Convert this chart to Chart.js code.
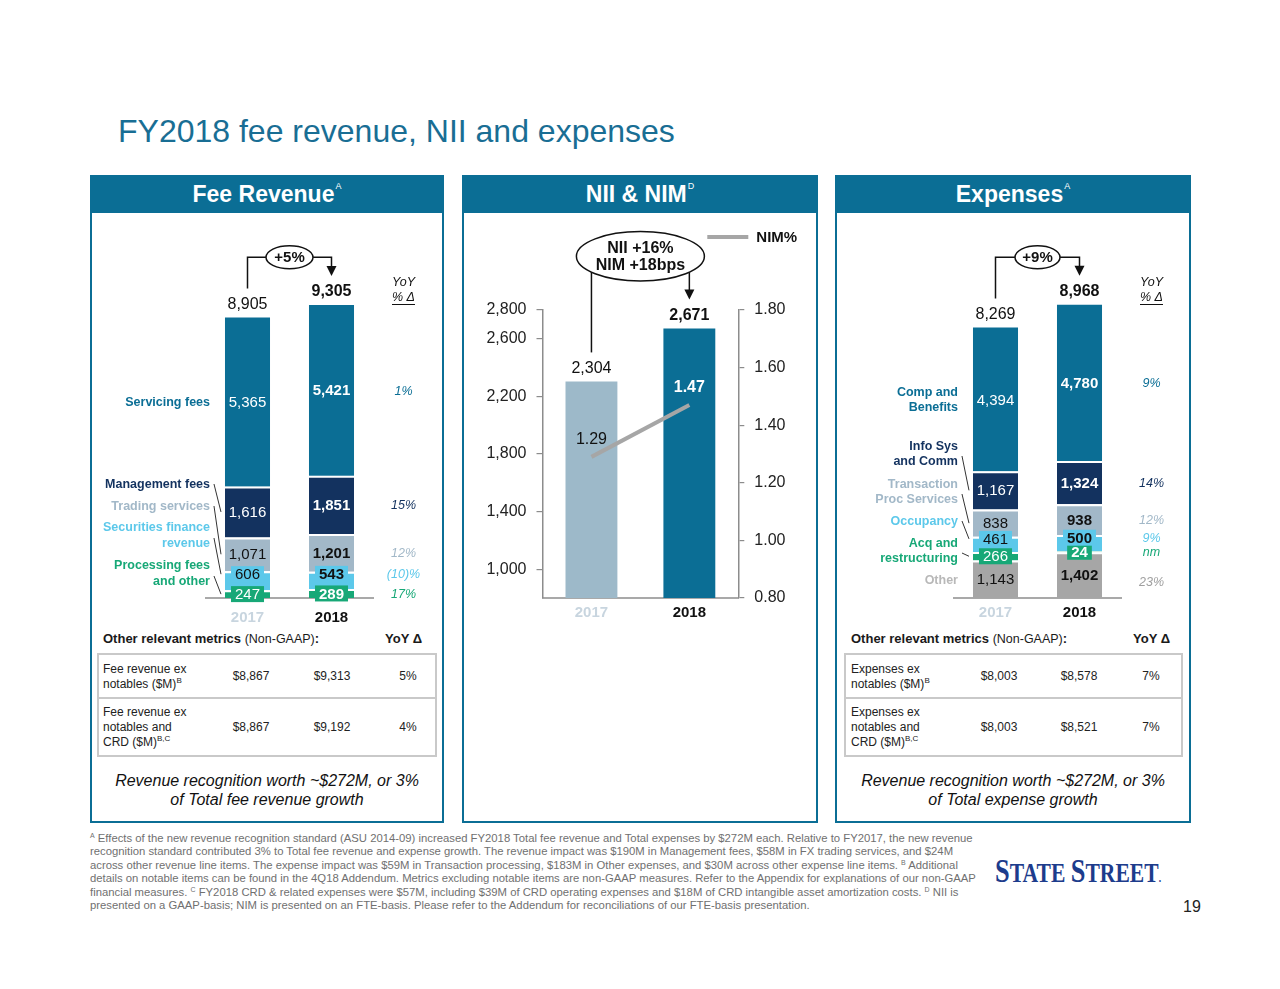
<!DOCTYPE html>
<html><head><meta charset="utf-8">
<script src="https://cdn.jsdelivr.net/npm/chart.js@4.4.1/dist/chart.umd.min.js"></script>
<style>
html,body{margin:0;padding:0;background:#fff}
body{width:1280px;height:989px;position:relative;overflow:hidden;font-family:"Liberation Sans",Arial,Helvetica,sans-serif;color:#1a1a1a}
.a{position:absolute;white-space:nowrap}
.panel{position:absolute;top:175px;height:648px;border:2px solid #0b6e95;box-sizing:border-box}
.hdr{position:absolute;top:175px;height:38px;background:#0b6e95;color:#fff;font-weight:bold;font-size:23px;line-height:38px;text-align:center}
.hdr sup{font-size:9px;font-weight:normal;vertical-align:baseline;position:relative;top:-13px;line-height:0;margin-left:1px}
canvas{position:absolute}
.mh{font-size:13px;font-weight:bold;line-height:16px}
.mh span{font-weight:normal;font-size:12.5px}
.tbl{position:absolute;top:653px;height:104px;border:2px solid #c9c9c9;box-sizing:border-box}
.dv{position:absolute;left:0;right:0;top:42px;border-top:2px solid #c9c9c9}
.cell{position:absolute;font-size:12px;line-height:15px;white-space:nowrap;color:#222}
.cell sup{font-size:8px;vertical-align:5px;line-height:0}
.val{position:absolute;font-size:12px;line-height:15px;text-align:center;width:80px;color:#222}
.ital{position:absolute;top:771px;font-size:16px;font-style:italic;line-height:19px;text-align:center;color:#111}
.fn{left:90px;top:832px;font-size:11.3px;line-height:13.4px;color:#707070}
.fn sup{font-size:7px;vertical-align:4px;line-height:0}
</style></head>
<body>
<div class="a" style="left:118px;top:111px;font-size:32px;line-height:40px;color:#196e94">FY2018 fee revenue, NII and expenses</div>

<div class="panel" style="left:90px;width:354px"></div>
<div class="panel" style="left:462px;width:356px"></div>
<div class="panel" style="left:835px;width:356px"></div>
<div class="hdr" style="left:90px;width:354px">Fee Revenue<sup>A</sup></div>
<div class="hdr" style="left:462px;width:356px">NII &amp; NIM<sup>D</sup></div>
<div class="hdr" style="left:835px;width:356px">Expenses<sup>A</sup></div>

<canvas id="fee" width="354" height="408" style="left:90px;top:215px"></canvas>
<canvas id="nii" width="355" height="408" style="left:462px;top:215px"></canvas>
<canvas id="exp" width="355" height="408" style="left:835px;top:215px"></canvas>

<!-- Fee metrics -->
<div class="a mh" style="left:103px;top:631px">Other relevant metrics <span>(Non-GAAP)</span>:</div>
<div class="a mh" style="left:385px;top:631px">YoY Δ</div>
<div class="tbl" style="left:97px;width:340px"><div class="dv"></div></div>
<div class="cell" style="left:103px;top:662px">Fee revenue ex<br>notables ($M)<sup>B</sup></div>
<div class="val" style="left:211px;top:669px">$8,867</div>
<div class="val" style="left:292px;top:669px">$9,313</div>
<div class="val" style="left:368px;top:669px">5%</div>
<div class="cell" style="left:103px;top:705px">Fee revenue ex<br>notables and<br>CRD ($M)<sup>B,C</sup></div>
<div class="val" style="left:211px;top:720px">$8,867</div>
<div class="val" style="left:292px;top:720px">$9,192</div>
<div class="val" style="left:368px;top:720px">4%</div>
<div class="ital" style="left:90px;width:354px">Revenue recognition worth ~$272M, or 3%<br>of Total fee revenue growth</div>

<!-- Expense metrics -->
<div class="a mh" style="left:851px;top:631px">Other relevant metrics <span>(Non-GAAP)</span>:</div>
<div class="a mh" style="left:1133px;top:631px">YoY Δ</div>
<div class="tbl" style="left:844px;width:339px"><div class="dv"></div></div>
<div class="cell" style="left:851px;top:662px">Expenses ex<br>notables ($M)<sup>B</sup></div>
<div class="val" style="left:959px;top:669px">$8,003</div>
<div class="val" style="left:1039px;top:669px">$8,578</div>
<div class="val" style="left:1111px;top:669px">7%</div>
<div class="cell" style="left:851px;top:705px">Expenses ex<br>notables and<br>CRD ($M)<sup>B,C</sup></div>
<div class="val" style="left:959px;top:720px">$8,003</div>
<div class="val" style="left:1039px;top:720px">$8,521</div>
<div class="val" style="left:1111px;top:720px">7%</div>
<div class="ital" style="left:835px;width:356px">Revenue recognition worth ~$272M, or 3%<br>of Total expense growth</div>

<div class="a fn"><sup>A</sup> Effects of the new revenue recognition standard (ASU 2014-09) increased FY2018 Total fee revenue and Total expenses by $272M each. Relative to FY2017, the new revenue<br>recognition standard contributed 3% to Total fee revenue and expense growth. The revenue impact was $190M in Management fees, $58M in FX trading services, and $24M<br>across other revenue line items. The expense impact was $59M in Transaction processing, $183M in Other expenses, and $30M across other expense line items. <sup>B</sup> Additional<br>details on notable items can be found in the 4Q18 Addendum. Metrics excluding notable items are non-GAAP measures. Refer to the Appendix for explanations of our non-GAAP<br>financial measures. <sup>C</sup> FY2018 CRD &amp; related expenses were $57M, including $39M of CRD operating expenses and $18M of CRD intangible asset amortization costs. <sup>D</sup> NII is<br>presented on a GAAP-basis; NIM is presented on an FTE-basis. Please refer to the Addendum for reconciliations of our FTE-basis presentation.</div>

<div class="a" style="left:995px;top:855px;color:#1d3c8c;font-family:'Liberation Serif','Times New Roman',serif;font-weight:bold;font-size:27px;line-height:32px;transform:scaleX(0.8);transform-origin:left center"><span style="font-size:33px">S</span>TATE <span style="font-size:33px">S</span>TREET<span style="font-size:12px">.</span></div>
<div class="a" style="left:1183px;top:898px;font-size:16px;line-height:18px;color:#222">19</div>

<script>
// ---------------- DATA ----------------
const years = ['2017', '2018'];

// Fee revenue ($M), stacked bottom -> top
const feeSeriesNames = ['Processing fees\nand other', 'Securities finance\nrevenue', 'Trading services', 'Management fees', 'Servicing fees'];
const feeProcessing = [247, 289];
const feeSecFinance = [606, 543];
const feeTrading = [1071, 1201];
const feeManagement = [1616, 1851];
const feeServicing = [5365, 5421];
const feeTotals = [8905, 9305];
const feeYoY = ['17%', '(10)%', '12%', '15%', '1%'];
const feeGrowth = ['+5%'];

// Expenses ($M), stacked bottom -> top
const expSeriesNames = ['Other', 'Acq and\nrestructuring', 'Occupancy', 'Transaction\nProc Services', 'Info Sys\nand Comm', 'Comp and\nBenefits'];
const expOther = [1143, 1402];
const expAcq = [266, 24];
const expOccupancy = [461, 500];
const expTransaction = [838, 938];
const expInfoSys = [1167, 1324];
const expComp = [4394, 4780];
const expTotals = [8269, 8968];
const expYoY = ['23%', 'nm', '9%', '12%', '14%', '9%'];
const expGrowth = ['+9%'];

// NII ($M) and NIM (%)
const niiValues = [2304, 2671];
const nimValues = [1.29, 1.47];
const niiTicks = [1000, 1400, 1800, 2200, 2600, 2800];
const nimTicks = [0.80, 1.00, 1.20, 1.40, 1.60, 1.80];
const niiGrowth = ['NII +16%', 'NIM +18bps'];
const nimLegend = 'NIM%';

// ---------------- STYLE ----------------
const FONT = '"Liberation Sans", Arial, Helvetica, sans-serif';
Chart.defaults.font.family = FONT;
const C = {serv:'#0b6e95', mgmt:'#13325f', trad:'#a2b8c8', sec:'#5cc8ea', proc:'#17a877', other:'#a6a6a6',
           nii17:'#9db9c9', nii18:'#0b6e95', light:'#c8d5df', dark:'#111111'};
const TOP = 215; // canvas top on the page
function font(px, bold, italic){ return (italic?'italic ':'') + (bold?'bold ':'') + px + 'px ' + FONT; }
const fmt = v => v.toLocaleString('en-US');

function drawBracket(ctx, x0, y0, x1, y1, ey, rx, ry, lines, fs) {
  const ex = (x0 + x1) / 2;
  ctx.save();
  ctx.strokeStyle = '#111'; ctx.lineWidth = 1.5; ctx.fillStyle = '#111';
  const edgeY = x => { const d = Math.abs(x - ex); return d < rx ? ey + ry * Math.sqrt(1 - (d/rx)*(d/rx)) : null; };
  ctx.beginPath(); ctx.moveTo(x0, y0);
  let e = edgeY(x0);
  if (e !== null) ctx.lineTo(x0, e); else { ctx.lineTo(x0, ey); ctx.lineTo(ex - rx, ey); }
  ctx.stroke();
  ctx.beginPath();
  e = edgeY(x1);
  if (e !== null) ctx.moveTo(x1, e); else { ctx.moveTo(ex + rx, ey); ctx.lineTo(x1, ey); }
  ctx.lineTo(x1, y1 - 9); ctx.stroke();
  ctx.beginPath(); ctx.moveTo(x1 - 5, y1 - 10); ctx.lineTo(x1 + 5, y1 - 10); ctx.lineTo(x1, y1); ctx.closePath(); ctx.fill();
  ctx.beginPath(); ctx.ellipse(ex, ey, rx, ry, 0, 0, Math.PI * 2);
  ctx.fillStyle = '#fff'; ctx.fill(); ctx.stroke();
  ctx.fillStyle = '#111'; ctx.font = font(fs, true); ctx.textAlign = 'center'; ctx.textBaseline = 'middle';
  lines.forEach((t, i) => ctx.fillText(t, ex, ey + 1 + (i - (lines.length - 1) / 2) * 17.3));
  ctx.restore();
}

const stackPlugin = {
  id: 'stackLabels',
  afterDatasetsDraw(chart, args, o) {
    const ctx = chart.ctx;
    const dss = chart.data.datasets;
    ctx.save();
    ctx.textAlign = 'center'; ctx.textBaseline = 'middle';
    dss.forEach((d, i) => {
      const meta = chart.getDatasetMeta(i);
      meta.data.forEach((bar, j) => {
        const cy = (bar.y + bar.base) / 2 + (d.labelShift || 0);
        const txt = fmt(d.data[j]);
        ctx.font = font(15, j === 1);
        if (d.labelBox) {
          const w = ctx.measureText(txt).width + 8;
          ctx.fillStyle = d.backgroundColor;
          ctx.fillRect(bar.x - w / 2, cy - 8, w, 16);
        }
        ctx.fillStyle = d.labelColor;
        ctx.fillText(txt, bar.x, cy + 1);
        if (j === 1) {
          ctx.font = font(12.5, false, true);
          ctx.fillStyle = d.yoyColor || d.backgroundColor;
          ctx.fillText(o.yoy[i], bar.x + 72, cy + 1 + (d.yoyShift || 0));
        }
        if (j === 0) {
          const lines = d.label.split('\n');
          const left = bar.x - bar.width / 2;
          ctx.save();
          ctx.textAlign = 'right';
          ctx.font = font(12.5, true);
          ctx.fillStyle = d.sideColor || d.backgroundColor;
          lines.forEach((t, k) => ctx.fillText(t, left - 15, d.sideY[k] + 1));
          if (d.leader) {
            const ly = d.sideY[lines.length - 1] - (lines.length > 1 ? 5 : 0);
            ctx.strokeStyle = '#333'; ctx.lineWidth = 1;
            ctx.beginPath(); ctx.moveTo(left - 11, ly); ctx.lineTo(left - 4, cy); ctx.stroke();
          }
          ctx.restore();
        }
      });
    });
    // totals
    const topMeta = chart.getDatasetMeta(dss.length - 1);
    topMeta.data.forEach((bar, j) => {
      ctx.font = font(16, j === 1); ctx.fillStyle = '#111';
      ctx.fillText(fmt(o.totals[j]), bar.x, bar.y - 13);
    });
    // YoY header
    const b1 = topMeta.data[1], b0 = topMeta.data[0];
    const hx = b1.x + 72;
    ctx.font = font(12.5, false, true); ctx.fillStyle = '#111';
    ctx.fillText('YoY', hx, 283 - TOP);
    ctx.fillText('% Δ', hx, 298 - TOP);
    const w = ctx.measureText('% Δ').width;
    ctx.strokeStyle = '#111'; ctx.lineWidth = 1;
    ctx.beginPath(); ctx.moveTo(hx - w / 2, 304.5 - TOP); ctx.lineTo(hx + w / 2, 304.5 - TOP); ctx.stroke();
    ctx.restore();
    drawBracket(ctx, b0.x, b0.y - 29, b1.x, b1.y - 29, o.ey, o.rx, o.ry, o.growth, 15);
  }
};

function seg(label, data, color, extra) {
  return Object.assign({
    label, data, backgroundColor: color, borderColor: '#fff',
    borderWidth: {top: 2, bottom: 0, left: 0, right: 0}, borderSkipped: false,
    barPercentage: 0.536, categoryPercentage: 1, leader: true
  }, extra);
}
const py = arr => arr.map(v => v - TOP);

function xAxis(pad) {
  return {
    stacked: true,
    grid: {display: false, drawTicks: false},
    border: {display: true, color: '#a9a9a9', width: 2},
    ticks: {padding: pad, color: c => c.index === 0 ? C.light : C.dark, font: {family: FONT, size: 15, weight: 'bold'}},
    afterFit: s => { s.height = 25; }
  };
}

function stackedOptions(max, padL, padR, tickPad, plug) {
  return {
    responsive: false, animation: false, devicePixelRatio: 1,
    layout: {padding: {left: padL, right: padR, top: 35, bottom: 0}},
    plugins: {legend: {display: false}, tooltip: {enabled: false}, stackLabels: plug},
    scales: {x: xAxis(tickPad), y: {stacked: true, display: false, min: 0, max: max}}
  };
}

// ---------------- FEE REVENUE ----------------
new Chart(document.getElementById('fee'), {
  type: 'bar',
  data: {
    labels: years,
    datasets: [
      seg(feeSeriesNames[0], feeProcessing, C.proc, {labelColor: '#fff', labelBox: true, sideY: py([565, 581])}),
      seg(feeSeriesNames[1], feeSecFinance, C.sec, {labelColor: C.dark, labelBox: true, labelShift: -6.5, sideY: py([527, 543])}),
      seg(feeSeriesNames[2], feeTrading, C.trad, {labelColor: C.dark, sideY: py([506])}),
      seg(feeSeriesNames[3], feeManagement, C.mgmt, {labelColor: '#fff', sideY: py([484])}),
      seg(feeSeriesNames[4], feeServicing, C.serv, {labelColor: '#fff', sideY: py([402]), leader: false, borderWidth: 0})
    ]
  },
  options: stackedOptions(11050, 115.5, 70.5, 11, {totals: feeTotals, yoy: feeYoY, growth: feeGrowth, ey: 257.3 - TOP, rx: 23.5, ry: 11.5}),
  plugins: [stackPlugin]
});

// ---------------- EXPENSES ----------------
new Chart(document.getElementById('exp'), {
  type: 'bar',
  data: {
    labels: years,
    datasets: [
      seg(expSeriesNames[0], expOther, C.other, {labelColor: C.dark, sideY: py([580]), leader: false, sideColor: '#b8b8b8', yoyColor: '#a0a0a0', yoyShift: 6}),
      seg(expSeriesNames[1], expAcq, C.proc, {labelColor: '#fff', labelBox: true, sideY: py([543, 558])}),
      seg(expSeriesNames[2], expOccupancy, C.sec, {labelColor: C.dark, labelBox: true, labelShift: -5.5, sideY: py([521])}),
      seg(expSeriesNames[3], expTransaction, C.trad, {labelColor: C.dark, sideY: py([484, 499])}),
      seg(expSeriesNames[4], expInfoSys, C.mgmt, {labelColor: '#fff', sideY: py([446, 461])}),
      seg(expSeriesNames[5], expComp, C.serv, {labelColor: '#fff', sideY: py([392, 407]), leader: false, borderWidth: 0})
    ]
  },
  options: stackedOptions(10640, 118.5, 68.5, 6, {totals: expTotals, yoy: expYoY, growth: expGrowth, ey: 257.3 - TOP, rx: 22.5, ry: 11.5}),
  plugins: [stackPlugin]
});

// ---------------- NII & NIM ----------------
const niiPlugin = {
  id: 'niiLabels',
  afterDatasetsDraw(chart) {
    const ctx = chart.ctx;
    const bars = chart.getDatasetMeta(0).data;
    const pts = chart.getDatasetMeta(1).data;
    ctx.save();
    ctx.textAlign = 'center'; ctx.textBaseline = 'middle';
    bars.forEach((b, j) => { ctx.font = font(16, j === 1); ctx.fillStyle = '#111'; ctx.fillText(fmt(niiValues[j]), b.x, b.y - 13); });
    pts.forEach((p, j) => { ctx.font = font(16, j === 1); ctx.fillStyle = j === 1 ? '#fff' : '#111'; ctx.fillText(nimValues[j].toFixed(2), p.x, p.y - 17); });
    // legend
    const lx = chart.chartArea.right - 31, ly = 237 - TOP;
    ctx.strokeStyle = C.other; ctx.lineWidth = 4;
    ctx.beginPath(); ctx.moveTo(lx, ly); ctx.lineTo(lx + 41, ly); ctx.stroke();
    ctx.textAlign = 'left'; ctx.font = font(15, true); ctx.fillStyle = '#111';
    ctx.fillText(nimLegend, lx + 49, ly + 1);
    ctx.restore();
    drawBracket(ctx, bars[0].x, bars[0].y - 29, bars[1].x, bars[1].y - 29, 256.3 - TOP, 64, 24.7, niiGrowth, 16);
  }
};

const yAxisCommon = {
  grid: {drawOnChartArea: false, drawTicks: true, tickLength: 6, color: '#8c8c8c', lineWidth: 1.2},
  border: {display: true, color: '#8c8c8c', width: 1.5}
};

new Chart(document.getElementById('nii'), {
  type: 'bar',
  data: {
    labels: years,
    datasets: [
      {type: 'bar', label: 'NII', data: niiValues, backgroundColor: [C.nii17, C.nii18], yAxisID: 'y',
       barPercentage: 0.53, categoryPercentage: 1, order: 2},
      {type: 'line', label: nimLegend, data: nimValues, yAxisID: 'y1', borderColor: C.other, borderWidth: 4,
       pointRadius: 0, borderCapStyle: 'butt', fill: false, order: 1}
    ]
  },
  options: {
    responsive: false, animation: false, devicePixelRatio: 1,
    layout: {padding: {left: 20.5, right: 18.7, top: 95, bottom: 0}},
    plugins: {legend: {display: false}, tooltip: {enabled: false}},
    scales: {
      x: Object.assign(xAxis(6), {stacked: false}),
      y: Object.assign({}, yAxisCommon, {
        position: 'left', min: 800, max: 2800,
        afterBuildTicks: s => { s.ticks = niiTicks.map(v => ({value: v})); },
        ticks: {padding: 10, color: '#222', font: {family: FONT, size: 16}, autoSkip: false, callback: v => fmt(v)},
        afterFit: s => { s.width = 60; }
      }),
      y1: Object.assign({}, yAxisCommon, {
        position: 'right', min: 0.8, max: 1.8,
        afterBuildTicks: s => { s.ticks = nimTicks.map(v => ({value: v})); },
        ticks: {padding: 10, color: '#222', font: {family: FONT, size: 16}, autoSkip: false, callback: v => Number(v).toFixed(2)},
        afterFit: s => { s.width = 60; }
      })
    }
  },
  plugins: [niiPlugin]
});
</script>
</body></html>
